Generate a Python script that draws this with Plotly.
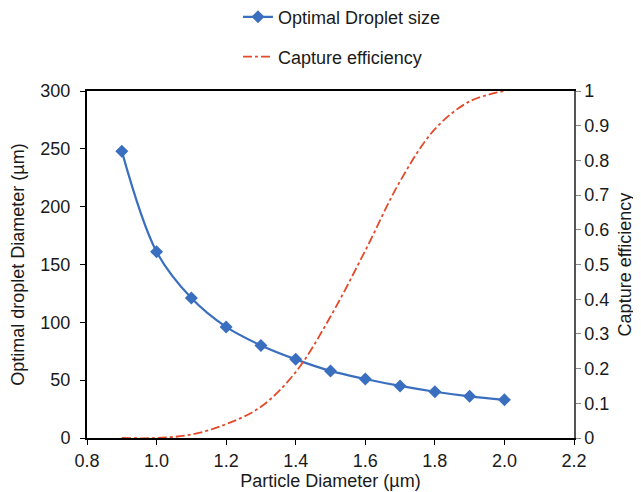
import plotly.graph_objects as go

particle_diameter = [0.9, 1.0, 1.1, 1.2, 1.3, 1.4, 1.5, 1.6, 1.7, 1.8, 1.9, 2.0]
optimal_droplet = [248, 161, 121, 96, 80, 68, 58, 51, 45, 40, 36, 33]
capture_efficiency = [0.0, 0.0, 0.01, 0.04, 0.09, 0.19, 0.35, 0.54, 0.74, 0.89, 0.97, 1.0]

x_ticks = [0.8, 1.0, 1.2, 1.4, 1.6, 1.8, 2.0, 2.2]

blue = "#3A6FC0"
red = "#E4492B"
font = "Liberation Sans, Arial, sans-serif"

fig = go.Figure()
fig.add_trace(go.Scatter(
    x=particle_diameter, y=optimal_droplet, name="Optimal Droplet size",
    mode="lines+markers", line=dict(color=blue, width=2.2, shape="spline"),
    marker=dict(symbol="diamond", size=10, color=blue), legend="legend", showlegend=True))
fig.add_trace(go.Scatter(
    x=particle_diameter, y=capture_efficiency, name="Capture efficiency",
    mode="lines", line=dict(color=red, width=1.8, dash="dashdot", shape="spline"),
    yaxis="y2", legend="legend2", showlegend=True))

tick_font = dict(size=18, color="#1a1a1a")
title_font = dict(size=18, color="#1a1a1a")

fig.update_layout(
    width=641, height=492,
    margin=dict(l=79, r=75, t=83, b=62, autoexpand=False),
    showlegend=True,
    paper_bgcolor="white", plot_bgcolor="white",
    font=dict(family=font, size=16, color="#1a1a1a"),
    xaxis=dict(range=[0.8, 2.2], tickvals=x_ticks, tickformat=".1f", tickfont=tick_font,
               showline=True, linecolor="black", linewidth=2, mirror=True,
               ticks="outside", ticklen=5, tickcolor="black", showgrid=False, zeroline=False,
               title=dict(text="Particle Diameter (µm)", standoff=4, font=title_font)),
    yaxis=dict(range=[0, 300], dtick=50, tickfont=tick_font, ticklabelstandoff=6,
               showline=True, linecolor="black", linewidth=2,
               ticks="outside", ticklen=5, tickcolor="black", showgrid=False, zeroline=False,
               title=dict(text="Optimal droplet Diameter (µm)", standoff=12, font=title_font)),
    yaxis2=dict(range=[0, 1], dtick=0.1, overlaying="y", side="right", tickfont=tick_font,
                showline=True, linecolor="#555555", linewidth=1.5,
                ticks="outside", ticklen=5, tickcolor="#888888", showgrid=False, zeroline=False,
                title=dict(text="Capture efficiency", standoff=10, font=title_font)),
    legend=dict(x=0.31, y=1.213, xanchor="left", yanchor="middle", bgcolor="rgba(0,0,0,0)",
                font=dict(size=18)),
    legend2=dict(x=0.31, y=1.098, xanchor="left", yanchor="middle", bgcolor="rgba(0,0,0,0)",
                 font=dict(size=18)),
)

fig.write_html("out.html")
